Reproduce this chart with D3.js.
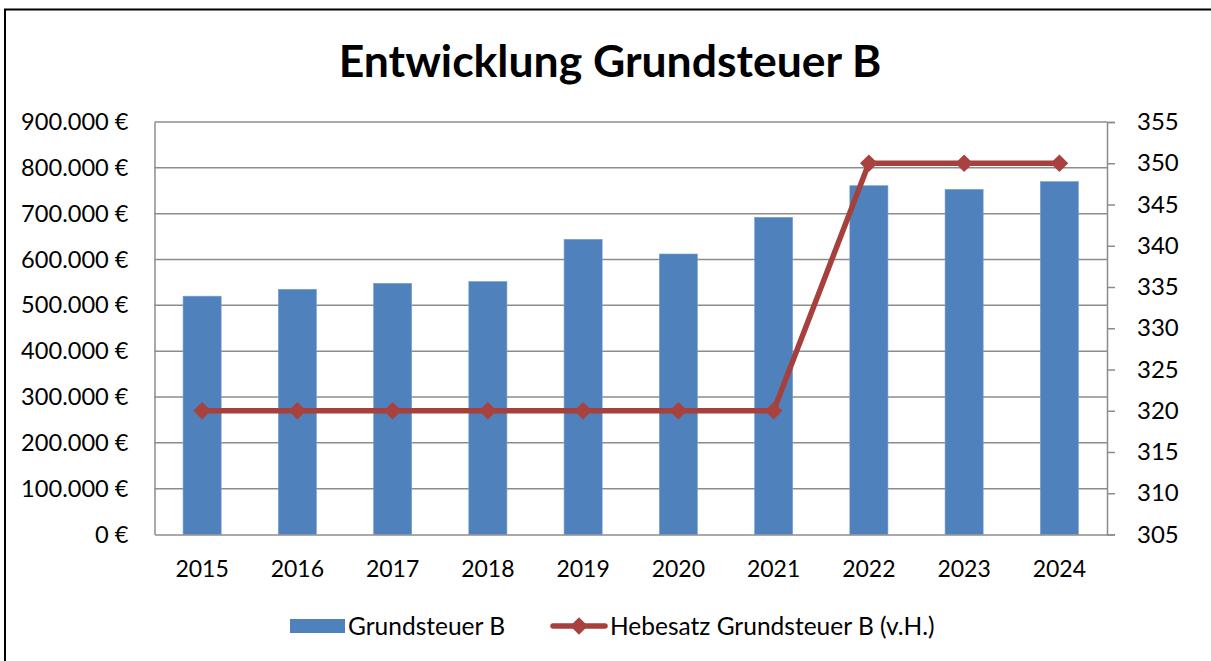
<!DOCTYPE html>
<html><head><meta charset="utf-8">
<script src="https://cdn.jsdelivr.net/npm/d3@7"></script>
<style>html,body{margin:0;padding:0;background:#fff;overflow:hidden}</style>
</head><body>
<svg id="c" width="1211" height="661"></svg>
<script>
const years = ["2015","2016","2017","2018","2019","2020","2021","2022","2023","2024"];
const grundsteuer = [520000,535000,548000,552000,644000,612000,692000,761000,753000,770000];
const hebesatz = [320,320,320,320,320,320,320,350,350,350];
const leftTicks = [0,100000,200000,300000,400000,500000,600000,700000,800000,900000];
const rightTicks = [305,310,315,320,325,330,335,340,345,350,355];
const title = "Entwicklung Grundsteuer B";
const seriesNames = ["Grundsteuer B","Hebesatz Grundsteuer B (v.H.)"];

const FONT = "Lato, 'Open Sans', sans-serif";
const svg = d3.select("#c");
const L = 154.5, R = 1107, T = 122, B = 534.5;

svg.append("rect").attr("x",5).attr("y",9.5).attr("width",1300).attr("height",800)
  .attr("fill","#fff").attr("stroke","#000").attr("stroke-width",2);

const x = d3.scaleBand().domain(years).range([L,R]).paddingInner(0.6).paddingOuter(0.3);
const y = d3.scaleLinear().domain([0,900000]).range([B,T]);
const y2 = d3.scaleLinear().domain([305,355]).range([B,T]);

// gridlines
svg.append("g").selectAll("line").data(leftTicks.filter(d=>d>0)).join("line")
  .attr("x1",L).attr("x2",R).attr("y1",d=>y(d)).attr("y2",d=>y(d))
  .attr("stroke","#8c8c8c").attr("stroke-width",1.5);

// bars
svg.append("g").selectAll("rect").data(years).join("rect")
  .attr("x",d=>x(d)).attr("width",x.bandwidth())
  .attr("y",(d,i)=>y(grundsteuer[i])).attr("height",(d,i)=>B-y(grundsteuer[i]))
  .attr("fill","#4F81BD").attr("stroke","#7aa0cf").attr("stroke-width",0.6);

// axes
const fmt = v => (v===0 ? "0" : d3.format(",")(v).replace(/,/g,".")) + " €";
const ga = svg.append("g").attr("transform",`translate(${L},0)`)
  .call(d3.axisLeft(y).tickValues(leftTicks).tickFormat(fmt).tickSize(0).tickPadding(26));
ga.select(".domain").attr("stroke","#8c8c8c").attr("stroke-width",1.5);
ga.selectAll("text").attr("font-family",FONT).attr("font-size",23.6).attr("fill","#000");

const gr = svg.append("g").attr("transform",`translate(${R},0)`)
  .call(d3.axisRight(y2).tickValues(rightTicks).tickSize(8).tickPadding(22));
gr.select(".domain").attr("stroke","#8c8c8c").attr("stroke-width",1.5);
gr.selectAll(".tick line").attr("stroke","#8c8c8c").attr("stroke-width",1.5);
gr.selectAll("text").attr("font-family",FONT).attr("font-size",24).attr("fill","#000");

const gb = svg.append("g").attr("transform",`translate(0,${B})`)
  .call(d3.axisBottom(x).tickSize(0).tickPadding(26));
gb.select(".domain").attr("stroke","#8c8c8c").attr("stroke-width",1.5);
gb.selectAll("text").attr("font-family",FONT).attr("font-size",23).attr("fill","#000");

// line
const lineColor = "#A5403D";
const line = d3.line().x((d,i)=>x(years[i])+x.bandwidth()/2).y(d=>y2(d));
svg.append("path").datum(hebesatz).attr("d",line).attr("fill","none")
  .attr("stroke",lineColor).attr("stroke-width",5.5).attr("stroke-linejoin","round");
const diamond = d3.symbol().type(d3.symbolDiamond2).size(200);
svg.append("g").selectAll("path").data(hebesatz).join("path")
  .attr("d",diamond)
  .attr("transform",(d,i)=>`translate(${x(years[i])+x.bandwidth()/2},${y2(d)})`)
  .attr("fill","#A9423F");

// title
svg.append("text").attr("x",610).attr("y",77).attr("text-anchor","middle")
  .attr("font-family",FONT).attr("font-weight",700).attr("font-size",44.5)
  .attr("fill","#000").text(title);

// legend
const lg = svg.append("g");
lg.append("rect").attr("x",290).attr("y",619).attr("width",55).attr("height",14).attr("fill","#4F81BD");
lg.append("text").attr("x",348).attr("y",635).attr("font-family",FONT).attr("font-size",24.5).text(seriesNames[0]);
lg.append("line").attr("x1",553).attr("x2",605).attr("y1",626).attr("y2",626)
  .attr("stroke",lineColor).attr("stroke-width",5.5).attr("stroke-linecap","round");
lg.append("path").attr("d",diamond).attr("transform","translate(579,626)").attr("fill","#A9423F");
lg.append("text").attr("x",610).attr("y",635).attr("font-family",FONT).attr("font-size",24.5).text(seriesNames[1]);
</script>
</body></html>
